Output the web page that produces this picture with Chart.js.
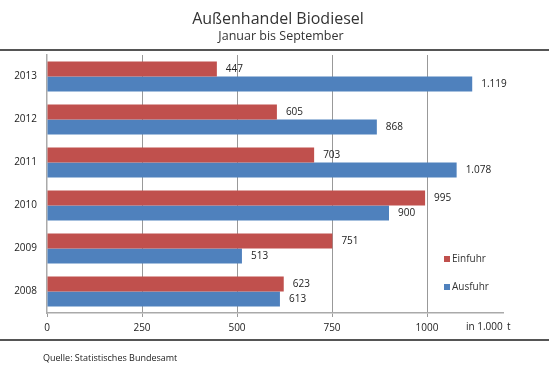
<!DOCTYPE html>
<html>
<head>
<meta charset="utf-8">
<script src="https://cdn.jsdelivr.net/npm/chart.js@4"></script>
<style>
  html, body { margin: 0; padding: 0; background: #fff; }
  #wrap { width: 549px; height: 376px; position: relative; }
</style>
</head>
<body>
<div id="wrap"><canvas id="BioChart" width="549" height="376"></canvas></div>
<script>
var years = ["2013", "2012", "2011", "2010", "2009", "2008"];
var einfuhr = [447, 605, 703, 995, 751, 623];
var ausfuhr = [1119, 868, 1078, 900, 513, 613];
var xTicks = [0, 250, 500, 750, 1000];

var FONT = "'Open Sans', sans-serif";

function fmtDe(n) {
    var s = String(n);
    return s.replace(/\B(?=(\d{3})+(?!\d))/g, ".");
}

// titles, lines, source, legend, unit label, value labels
var decor = {
    id: 'decor',
    afterDraw: function (chart) {
        var ctx = chart.ctx;
        ctx.save();
        ctx.fillStyle = "#333";
        ctx.textAlign = "center";
        ctx.textBaseline = "middle";
        ctx.font = "16px " + FONT;
        ctx.fillText("Außenhandel Biodiesel", 278, 19);
        ctx.font = "12.5px " + FONT;
        ctx.fillText("Januar bis September", 281, 36);

        ctx.strokeStyle = "#555";
        ctx.lineWidth = 2;
        ctx.beginPath();
        ctx.moveTo(0, 50); ctx.lineTo(549, 50);
        ctx.moveTo(0, 340); ctx.lineTo(549, 340);
        ctx.stroke();

        ctx.textAlign = "left";
        ctx.font = "9px " + FONT;
        ctx.fillStyle = "#222";
        ctx.fillText("Quelle: Statistisches Bundesamt", 43, 358);

        ctx.font = "10px " + FONT;
        ctx.fillText("in 1.000", 466, 327);
        ctx.fillText("t", 507, 327);

        // legend
        var leg = [["Einfuhr", "#c0504d", 259], ["Ausfuhr", "#4f81bd", 287]];
        leg.forEach(function (l) {
            ctx.fillStyle = l[1];
            ctx.fillRect(444, l[2] - 3, 6, 6);
            ctx.fillStyle = "#333";
            ctx.fillText(l[0], 452, l[2]);
        });

        // value labels
        ctx.fillStyle = "#222";
        chart.data.datasets.forEach(function (ds, di) {
            var meta = chart.getDatasetMeta(di);
            meta.data.forEach(function (bar, i) {
                ctx.fillText(fmtDe(ds.data[i]), bar.x + 9, bar.y);
            });
        });
        ctx.restore();
    }
};

var BioChart = new Chart(document.getElementById('BioChart'), {
    type: 'bar',
    data: {
        labels: years,
        datasets: [{
            label: 'Einfuhr',
            data: einfuhr,
            backgroundColor: '#c0504d',
            borderWidth: 0
        }, {
            label: 'Ausfuhr',
            data: ausfuhr,
            backgroundColor: '#4f81bd',
            borderWidth: 0
        }]
    },
    options: {
        indexAxis: 'y',
        responsive: false,
        animation: false,
        layout: { padding: { top: 55, left: 0, right: 46, bottom: 36 } },
        plugins: {
            legend: { display: false },
            tooltip: { enabled: false }
        },
        datasets: {
            bar: { categoryPercentage: 0.7, barPercentage: 1.0 }
        },
        scales: {
            x: {
                min: 0,
                max: 1200,
                afterFit: function (s) { s.height = 27; },
                afterBuildTicks: function (s) {
                    s.ticks = xTicks.map(function (v) { return { value: v }; });
                },
                grid: {
                    color: function (c) { return c.tick && c.tick.value === 0 ? 'rgba(0,0,0,0)' : '#999'; },
                    lineWidth: 1,
                    drawTicks: true,
                    tickLength: 4,
                    tickColor: '#999'
                },
                border: { color: '#aaa', width: 1.5 },
                ticks: {
                    font: { family: FONT, size: 10 },
                    color: '#222',
                    padding: 5,
                    maxRotation: 0,
                    callback: function (v) { return String(v); }
                }
            },
            y: {
                afterFit: function (s) { s.width = 47; },
                grid: { display: false, drawTicks: false },
                border: { color: '#aaa', width: 1.5 },
                ticks: {
                    font: { family: FONT, size: 10 },
                    color: '#222',
                    padding: 10
                }
            }
        }
    },
    plugins: [decor]
});
</script>
</body>
</html>
